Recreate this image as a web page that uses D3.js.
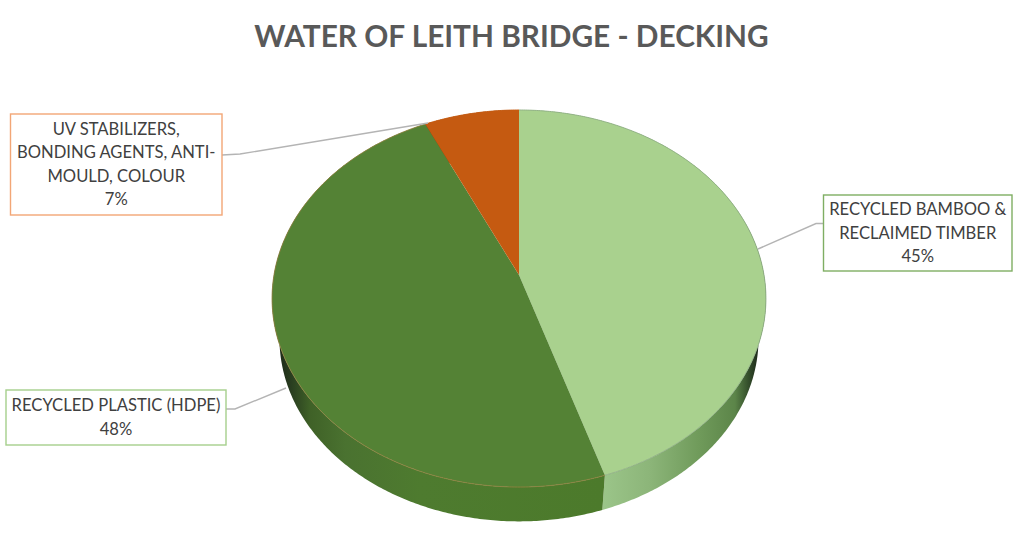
<!DOCTYPE html>
<html>
<head>
<meta charset="utf-8">
<script src="https://cdn.jsdelivr.net/npm/d3@7"></script>
<style>
  html, body { margin: 0; padding: 0; background: #fff; }
  svg { display: block; }
  text { font-family: Lato, 'Open Sans', sans-serif; }
</style>
</head>
<body>
<svg id="chart" width="1024" height="538"></svg>
<script>
const title = 'WATER OF LEITH BRIDGE - DECKING'
const categories = ['RECYCLED BAMBOO & RECLAIMED TIMBER', 'RECYCLED PLASTIC (HDPE)', 'UV STABILIZERS, BONDING AGENTS, ANTI-MOULD, COLOUR']
const values = [45, 48, 7]
const percentLabels = ['45%', '48%', '7%']
const labelLines = [
  ['RECYCLED BAMBOO &', 'RECLAIMED TIMBER'],
  ['RECYCLED PLASTIC (HDPE)'],
  ['UV STABILIZERS,', 'BONDING AGENTS, ANTI-', 'MOULD, COLOUR']
]

let svg = d3.select('#chart')
svg.attr('role', 'img').attr('aria-label', title)

// pie geometry, tilted with a bit of perspective like the office 3d pie
let cx = 519
let cy = 275
let persp = -0.1247
let scaleX = 245
let scaleY = 185.6
let sideScale = 0.97
let sideDrop = 40.7

// colours per slice
let topColors = ['#a9d18e', '#548235', '#c55a11']
let rimColors = ['#8fae84', '#8f8140', '#c55a11']
let boxBorders = ['#7fae63', '#a5cf8c', '#f2a676']

// label boxes, same order as categories
let boxes = [
  {x: 823.5, y: 195, w: 188.5, h: 76, line: [[758, 249], [816, 223.5], [823.5, 223.5]]},
  {x: 6, y: 390, w: 220, h: 55, line: [[286, 388], [235, 409], [226, 409]]},
  {x: 10.5, y: 114, w: 211.5, h: 101, line: [[428, 123], [240, 154], [222, 155]]}
]

let pie = d3.pie().sort(null).value((d) => d)
let slices = pie(values)

// angle is clockwise from 12 o'clock, returns the point on the top face
function project (angle, r) {
  let u = Math.sin(angle) * r
  let v = -Math.cos(angle) * r
  let w = 1 + persp * v
  return [cx + scaleX * u / w, cy + scaleY * v / w]
}

function projectBottom (angle) {
  let p = project(angle, 1)
  return [cx + sideScale * (p[0] - cx), cy + sideDrop + sideScale * (p[1] - cy)]
}

function rim (start, end, fn) {
  let n = Math.max(2, Math.ceil((end - start) / 0.01))
  return d3.range(n + 1).map((i) => fn(start + (end - start) * i / n))
}

let line = d3.line()

// gradients for the side wall
let defs = svg.append('defs')
let sideStops = [
  [[600, '#9cc68a'], [650, '#8cb579'], [700, '#6f9a5a'], [735, '#5c8549'], [748, '#35502c'], [758, '#1f2c1b']],
  [[278, '#1c2818'], [292, '#2a3f20'], [310, '#3f6127'], [345, '#4a7230'], [420, '#4e7b2f'], [603, '#4c7a2b']],
  [[400, '#8a3f0c'], [520, '#8a3f0c']]
]
sideStops.forEach((stops, i) => {
  let grad = defs.append('linearGradient')
    .attr('id', 'side' + i)
    .attr('gradientUnits', 'userSpaceOnUse')
    .attr('x1', stops[0][0]).attr('x2', stops[stops.length - 1][0])
    .attr('y1', 0).attr('y2', 0)
  let off = d3.scaleLinear().domain([stops[0][0], stops[stops.length - 1][0]]).range([0, 1])
  stops.forEach((s) => {
    grad.append('stop').attr('offset', off(s[0])).attr('stop-color', s[1])
  })
})

// side wall first, top face paints over whatever is round the back
svg.append('g').selectAll('path')
  .data(slices)
  .join('path')
  .attr('fill', (d, i) => 'url(#side' + i + ')')
  .attr('d', (d) => {
    let upper = rim(d.startAngle, d.endAngle, (a) => project(a, 1))
    let lower = rim(d.startAngle, d.endAngle, projectBottom).reverse()
    return line(upper.concat(lower)) + 'Z'
  })

// top face
svg.append('g').selectAll('path')
  .data(slices)
  .join('path')
  .attr('fill', (d, i) => topColors[i])
  .attr('d', (d) => {
    let pts = rim(d.startAngle, d.endAngle, (a) => project(a, 1))
    return line([[cx, cy]].concat(pts)) + 'Z'
  })

// thin edge round the rim
svg.append('g').selectAll('path')
  .data(slices)
  .join('path')
  .attr('fill', 'none')
  .attr('stroke', (d, i) => rimColors[i])
  .attr('stroke-width', 0.9)
  .attr('d', (d) => line(rim(d.startAngle, d.endAngle, (a) => project(a, 1))))

// leader lines
svg.append('g').selectAll('path')
  .data(boxes)
  .join('path')
  .attr('fill', 'none')
  .attr('stroke', '#b4b4b4')
  .attr('stroke-width', 1.4)
  .attr('d', (d) => line(d.line))

// label boxes
let label = svg.append('g').selectAll('g')
  .data(categories)
  .join('g')
  .attr('data-category', (d) => d)

label.append('rect')
  .attr('x', (d, i) => boxes[i].x)
  .attr('y', (d, i) => boxes[i].y)
  .attr('width', (d, i) => boxes[i].w)
  .attr('height', (d, i) => boxes[i].h)
  .attr('fill', '#fff')
  .attr('stroke', (d, i) => boxBorders[i])
  .attr('stroke-width', 1.4)

label.append('text')
  .attr('text-anchor', 'middle')
  .attr('font-size', 16.6)
  .attr('fill', '#404040')
  .each(function (d, i) {
    let rows = labelLines[i].concat(percentLabels[i])
    let midX = boxes[i].x + boxes[i].w / 2
    let rowH = 23.4
    let firstY = boxes[i].y + boxes[i].h / 2 - (rows.length - 1) * rowH / 2 + 5.5
    d3.select(this).selectAll('tspan')
      .data(rows)
      .join('tspan')
      .attr('x', midX)
      .attr('y', (r, j) => firstY + j * rowH)
      .text((r) => r)
  })

// chart title
svg.append('text')
  .attr('x', 511.5)
  .attr('y', 47)
  .attr('text-anchor', 'middle')
  .attr('font-size', 29.8)
  .attr('font-weight', 700)
  .attr('fill', '#595959')
  .text(title)
</script>
</body>
</html>
